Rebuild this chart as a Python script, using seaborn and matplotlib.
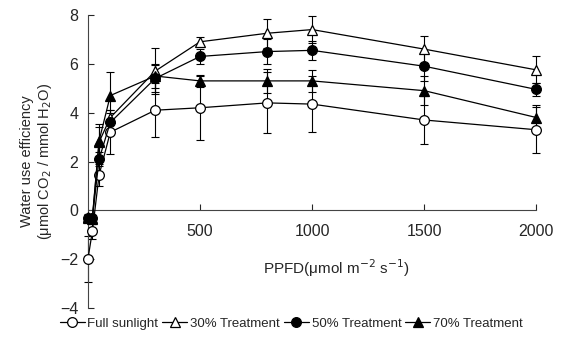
import numpy as np
import pandas as pd
import matplotlib.pyplot as plt
import seaborn as sns

# PPFD levels (umol m-2 s-1)
ppfd = [0, 20, 50, 100, 300, 500, 800, 1000, 1500, 2000]

# mean water use efficiency per treatment
full_sun = [-2.0, -0.85, 1.45, 3.2, 4.1, 4.2, 4.4, 4.35, 3.7, 3.3]
t30 = [-0.3, -0.35, 2.8, 3.8, 5.7, 6.9, 7.25, 7.4, 6.6, 5.75]
t50 = [-0.3, -0.3, 2.1, 3.6, 5.4, 6.3, 6.5, 6.55, 5.9, 4.95]
t70 = [-0.25, -0.3, 2.85, 4.7, 5.5, 5.3, 5.3, 5.3, 4.9, 3.8]

# standard errors
full_sun_err = [0.95, 0.3, 0.45, 0.9, 1.1, 1.3, 1.25, 1.15, 1.0, 0.95]
t30_err = [0.1, 0.1, 0.6, 0.3, 0.95, 0.2, 0.6, 0.55, 0.55, 0.55]
t50_err = [0.1, 0.1, 0.3, 0.4, 0.55, 0.3, 0.5, 0.4, 0.6, 0.25]
t70_err = [0.1, 0.1, 0.7, 0.95, 0.5, 0.25, 0.5, 0.45, 0.6, 0.5]

labels = ['Full sunlight', '30% Treatment', '50% Treatment', '70% Treatment']

frames = []
for lab, vals, errs in zip(labels, [full_sun, t30, t50, t70],
                           [full_sun_err, t30_err, t50_err, t70_err]):
    frames.append(pd.DataFrame({'ppfd': ppfd, 'wue': vals, 'err': errs, 'group': lab}))
df = pd.concat(frames, ignore_index=True)

sns.set_style('ticks')
plt.rcParams['font.family'] = ['Liberation Sans', 'DejaVu Sans']

fig = plt.figure(figsize=(5.67, 3.39), dpi=100)
ax = fig.add_axes([0.155, 0.091, 0.797, 0.865])

styles = {
    'Full sunlight': dict(marker='o', mfc='white', ms=7),
    '30% Treatment': dict(marker='^', mfc='white', ms=7),
    '50% Treatment': dict(marker='o', mfc='black', ms=7),
    '70% Treatment': dict(marker='^', mfc='black', ms=7),
}

for lab in labels:
    sub = df[df['group'] == lab]
    ax.errorbar(sub['ppfd'], sub['wue'], yerr=sub['err'], fmt='none',
                ecolor='black', elinewidth=0.8, capsize=3, capthick=0.8,
                zorder=2, clip_on=False)
    st = styles[lab]
    sns.lineplot(data=sub, x='ppfd', y='wue', ax=ax, color='black', lw=0.9,
                 marker=st['marker'], markersize=st['ms'],
                 markerfacecolor=st['mfc'], markeredgecolor='black',
                 markeredgewidth=0.9, label=lab, zorder=3, clip_on=False)

ax.set_xlim(0, 2015)
ax.set_ylim(-4, 8)
ax.set_yticks([-4, -2, 0, 2, 4, 6, 8])
ax.set_xticks([500, 1000, 1500, 2000])

# x axis crosses at y = 0
ax.spines['bottom'].set_position(('data', 0))
ax.spines['bottom'].set_bounds(0, 2000)
ax.spines['top'].set_visible(False)
ax.spines['right'].set_visible(False)
for s in ['bottom', 'left']:
    ax.spines[s].set_linewidth(0.8)
    ax.spines[s].set_color('#444444')
ax.tick_params(axis='y', direction='in', length=4, labelsize=11.5, width=0.8, pad=7)
ax.tick_params(axis='x', direction='in', length=4, labelsize=11.5, width=0.8, pad=10)

ax.set_xlabel('')
ax.set_ylabel('Water use efficiency\n(μmol CO$_2$ / mmol H$_2$O)', fontsize=10.5,
              linespacing=1.15, labelpad=4)
ax.text(0.55, 0.137, 'PPFD(μmol m$^{-2}$ s$^{-1}$)', transform=ax.transAxes,
        ha='center', va='center', fontsize=11)

handles, labs = ax.get_legend_handles_labels()
ax.legend(handles, labs, loc='upper center', bbox_to_anchor=(0.45, -0.015),
          ncol=4, frameon=False, fontsize=9.5, handlelength=1.9,
          handletextpad=0.2, columnspacing=0.3, borderaxespad=0)

fig.savefig('out.png', dpi=100)
